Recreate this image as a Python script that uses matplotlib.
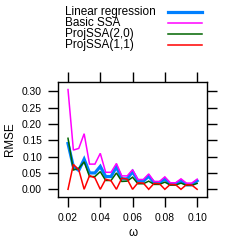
import matplotlib
matplotlib.use("Agg")
import matplotlib.pyplot as plt
from matplotlib.lines import Line2D

plt.rcParams['font.family'] = ['Liberation Sans', 'DejaVu Sans']

omega = [0.02, 0.02333, 0.02667, 0.03, 0.03333, 0.03667, 0.04, 0.04333, 0.04667,
         0.05, 0.05333, 0.05667, 0.06, 0.06333, 0.06667, 0.07, 0.07333, 0.07667,
         0.08, 0.08333, 0.08667, 0.09, 0.09333, 0.09667, 0.10]

linreg = [0.140, 0.069, 0.058, 0.092, 0.050, 0.050, 0.070, 0.039, 0.039,
          0.069, 0.032, 0.032, 0.054, 0.025, 0.025, 0.040, 0.020, 0.020,
          0.032, 0.016, 0.016, 0.026, 0.014, 0.014, 0.026]
basic = [0.305, 0.120, 0.125, 0.170, 0.077, 0.077, 0.110, 0.052, 0.052,
         0.079, 0.041, 0.041, 0.060, 0.030, 0.030, 0.047, 0.024, 0.024,
         0.038, 0.020, 0.020, 0.032, 0.019, 0.019, 0.031]
proj20 = [0.156, 0.059, 0.064, 0.084, 0.039, 0.039, 0.054, 0.027, 0.027,
          0.050, 0.024, 0.025, 0.037, 0.017, 0.017, 0.025, 0.015, 0.015,
          0.022, 0.013, 0.013, 0.019, 0.012, 0.012, 0.018]
proj11 = [0.000, 0.076, 0.060, 0.000, 0.042, 0.035, 0.000, 0.031, 0.026,
          0.000, 0.034, 0.031, 0.000, 0.020, 0.019, 0.000, 0.018, 0.017,
          0.000, 0.015, 0.014, 0.000, 0.014, 0.013, 0.000]

labels = ["Linear regression", "Basic SSA", "ProjSSA(2,0)", "ProjSSA(1,1)"]
series = [linreg, basic, proj20, proj11]
colors = ["#0080FF", "#FF00FF", "#006400", "#FF0000"]
widths = [2.3, 1.1, 1.1, 1.1]

xticks = [0.02, 0.04, 0.06, 0.08, 0.10]
xticklabels = ["0.02", "0.04", "0.06", "0.08", "0.10"]
yticks = [0.00, 0.05, 0.10, 0.15, 0.20, 0.25, 0.30]
yticklabels = ["0.00", "0.05", "0.10", "0.15", "0.20", "0.25", "0.30"]

W, H = 242, 242
fig = plt.figure(figsize=(W / 100, H / 100), dpi=100)
ax = fig.add_axes([58 / W, 1 - 196.7 / H, (207.3 - 58) / W, (196.7 - 81.7) / H])

for s, c, lw in zip(series, colors, widths):
    ax.plot(omega, s, color=c, lw=lw, solid_joinstyle='miter')

ax.set_xlim(0.0138, 0.1063)
ax.set_ylim(-0.0226, 0.329)
ax.set_xticks(xticks)
ax.set_xticklabels(xticklabels)
ax.set_yticks(yticks)
ax.set_yticklabels(yticklabels)
ax.tick_params(direction='out', length=7.5, width=1.0, labelsize=7.4, pad=4,
               top=True, right=True, labeltop=False, labelright=False, colors='black')
for sp in ax.spines.values():
    sp.set_linewidth(1.0)
ax.set_xlabel("ω", fontsize=8.4, labelpad=3)
ax.set_ylabel("RMSE", fontsize=8.4, labelpad=4)

# key (legend) in lattice style: text left-aligned, lines on the right
ys = [12, 23, 34, 45]
for lab, c, lw, y in zip(labels, colors, widths, ys):
    fig.text(65 / W, 1 - y / H, lab, fontsize=8.5, ha='left', va='center')
    fig.add_artist(Line2D([168 / W, 202 / W], [1 - y / H, 1 - y / H],
                          transform=fig.transFigure, color=c, lw=lw))

fig.savefig("out.png", dpi=100)
